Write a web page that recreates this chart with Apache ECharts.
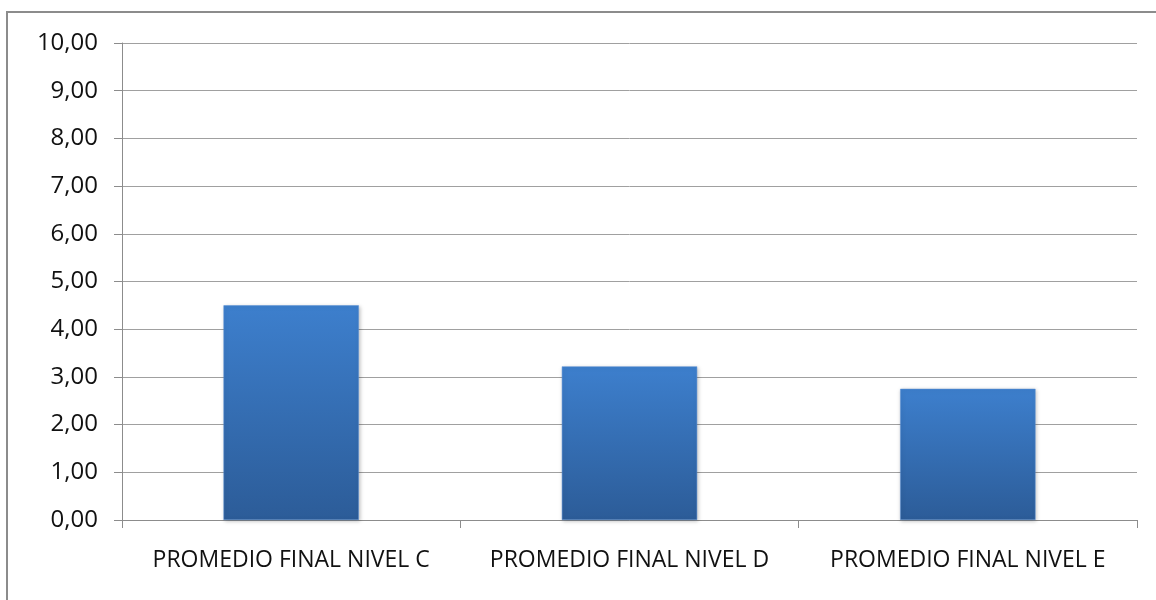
<!DOCTYPE html>
<html>
<head>
<meta charset="utf-8">
<script src="https://cdn.jsdelivr.net/npm/echarts@6/dist/echarts.min.js"></script>
<style>
  html, body { margin: 0; padding: 0; background: #fff; }
  #chart { width: 1156px; height: 600px; }
</style>
</head>
<body>
<div id="chart"></div>
<script>
// Category names and averages per level
const categories = ['PROMEDIO FINAL NIVEL C', 'PROMEDIO FINAL NIVEL D', 'PROMEDIO FINAL NIVEL E'];
const promedios = [4.50, 3.22, 2.75];
const yMin = 0;
const yMax = 10;
const yStep = 1;

const chart = echarts.init(document.getElementById('chart'));
const font = '"Open Sans", sans-serif';

chart.setOption({
  animation: false,
  graphic: [{
    type: 'rect',
    shape: { x: 7, y: 12, width: 1160, height: 600 },
    style: { fill: 'none', stroke: '#8c8c8c', lineWidth: 2 },
    silent: true
  }],
  grid: { left: 122, right: 19, top: 43, bottom: 80, containLabel: false },
  xAxis: {
    type: 'category',
    data: categories,
    boundaryGap: true,
    axisLine: { lineStyle: { color: '#8c8c8c', width: 1 } },
    axisTick: { show: true, interval: 0, length: 8, lineStyle: { color: '#8c8c8c' } },
    axisLabel: { interval: 0, hideOverlap: false, color: '#111', fontSize: 23, fontFamily: font, margin: 29 }
  },
  yAxis: {
    type: 'value',
    min: yMin,
    max: yMax,
    interval: yStep,
    axisLine: { show: true, lineStyle: { color: '#8c8c8c', width: 1 } },
    axisTick: { show: true, length: 8, lineStyle: { color: '#8c8c8c' } },
    splitLine: { show: true, lineStyle: { color: '#a0a0a0', width: 1 } },
    axisLabel: {
      color: '#111', fontSize: 24, fontFamily: font, margin: 24,
      formatter: v => v.toFixed(2).replace('.', ',')
    }
  },
  series: [{
    type: 'bar',
    data: promedios,
    barWidth: '40%',
    itemStyle: {
      color: new echarts.graphic.LinearGradient(0, 0, 0, 1, [
        { offset: 0, color: '#3d7fcd' },
        { offset: 1, color: '#2c5c98' }
      ]),
      borderColor: '#5a91d6',
      borderWidth: 0.5,
      shadowColor: 'rgba(0,0,0,0.25)',
      shadowBlur: 4,
      shadowOffsetX: 1,
      shadowOffsetY: 1
    }
  }]
});
</script>
</body>
</html>
